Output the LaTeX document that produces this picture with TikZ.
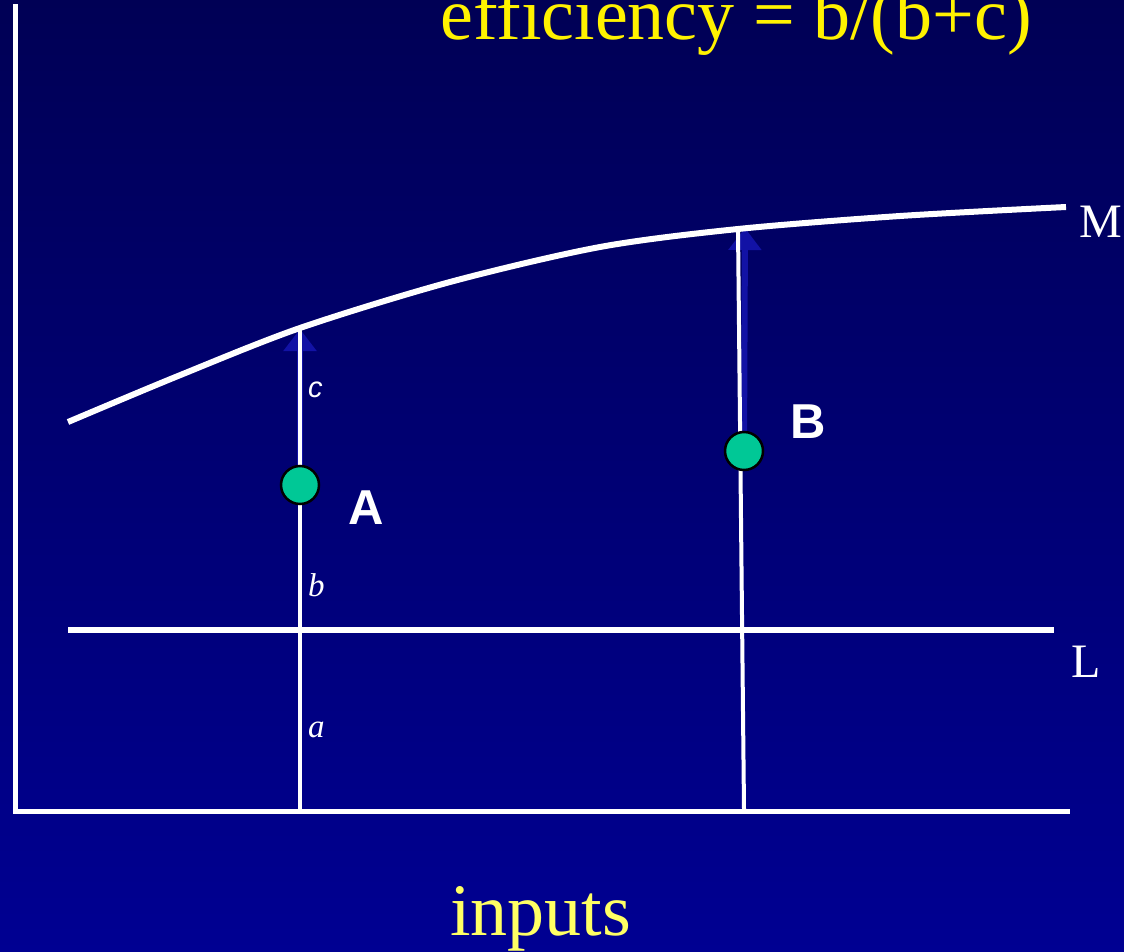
\documentclass[tikz,border=0pt]{standalone}
\usepackage{fontspec}
\setmainfont{Liberation Serif}
\setsansfont{Liberation Sans}
\usetikzlibrary{arrows.meta}
\definecolor{skytop}{RGB}{0,0,85}
\definecolor{skybot}{RGB}{0,0,146}
\definecolor{arrowblue}{RGB}{18,18,165}
\definecolor{dotgreen}{RGB}{0,200,150}
\definecolor{paleyellow}{RGB}{255,255,100}
\begin{document}
\begin{tikzpicture}[x=1pt, y=-1pt,
   axis/.style={draw=white, line width=5pt},
   rise/.style={draw=white, line width=4pt},
   lift/.style={draw=arrowblue, line width=6pt, -{Triangle[width=32pt,length=22pt]}},
   dot/.style={circle, draw=black, line width=2.5pt, fill=dotgreen, minimum size=38pt, inner sep=0pt},
   tag/.style={text=white, font=\sffamily\bfseries\fontsize{49}{49}\selectfont, anchor=base west, inner sep=0pt},
   seg/.style={text=white, font=\itshape\fontsize{33}{33}\selectfont, anchor=base west, inner sep=0pt},
   curvename/.style={text=white, font=\fontsize{48}{48}\selectfont, anchor=base west, inner sep=0pt}]
\useasboundingbox (0,0) rectangle (1124,952);
\shade[top color=skytop, bottom color=skybot] (0,0) rectangle (1124,952);
% axes
\coordinate (origin) at (15,811);
\coordinate (ytop) at (15,7);
\coordinate (xend) at (1067,811);
\draw[axis, line cap=rect] (ytop) -- (origin) -- (xend);
% points on the curves and the axis
\coordinate (topA) at (300,328);
\coordinate (topB) at (738,229);
\coordinate (botA) at (300,809);
\coordinate (botB) at (744,809);
\coordinate (ptA) at (300,485);
\coordinate (ptB) at (744,451);
\coordinate (Lstart) at (68,630);
\coordinate (Lend) at (1054,630);
\draw[lift] (ptA) -- (300,329);
\draw[lift] (ptB) -- (745,228);
\draw[rise] (botA) -- (topA);
\draw[rise] (botB) -- (topB);
\draw[axis, line width=6pt] (Lstart) -- (Lend);
\draw[axis, line width=6pt] plot[smooth, tension=0.5] coordinates {(68,422) (178,376) (topA) (450,282) (600,247) (topB) (900,216) (1066,207)};
\node[dot] (dotA) at (ptA) {};
\node[dot] (dotB) at (ptB) {};
\node[tag] (labA) at (348,524) {A};
\node[tag] (labB) at (790,438) {B};
\node[seg, font=\sffamily\itshape\fontsize{29}{29}\selectfont] (segc) at (308,397) {c};
\node[seg] (segb) at (308,596) {b};
\node[seg] (sega) at (308,737) {a};
\node[curvename] (nameM) at (1079,237) {M};
\node[curvename] (nameL) at (1071,677) {L};
\node[text=yellow, font=\fontsize{74}{74}\selectfont, anchor=base west, inner sep=0pt] (title) at (440,40) {efficiency = b/(b+c)};
\node[text=paleyellow, font=\fontsize{74}{74}\selectfont, anchor=base west, inner sep=0pt] (xname) at (450,935) {inputs};
\end{tikzpicture}
\end{document}
